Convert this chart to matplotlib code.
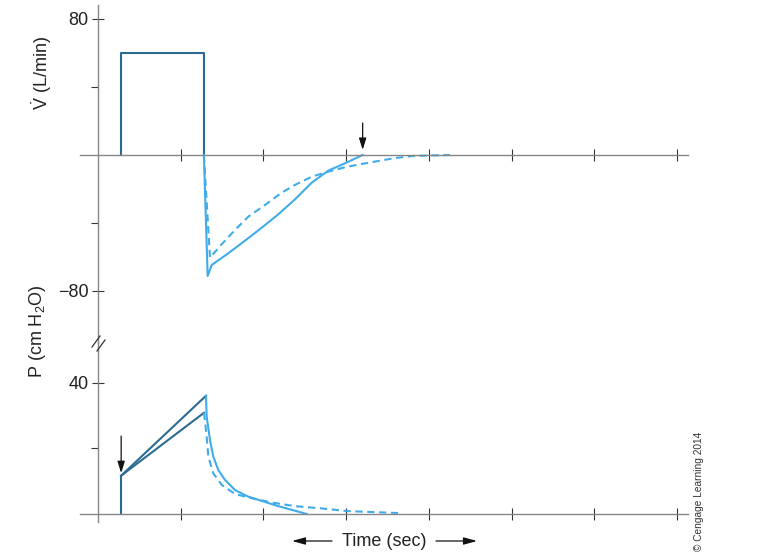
import matplotlib
matplotlib.use('Agg')
import matplotlib.pyplot as plt
from matplotlib.lines import Line2D

plt.rcParams['font.family'] = ['Liberation Sans', 'DejaVu Sans']
plt.rcParams['mathtext.fontset'] = 'custom'
plt.rcParams['mathtext.rm'] = 'Liberation Sans'
plt.rcParams['mathtext.it'] = 'Liberation Sans:italic'
plt.rcParams['mathtext.default'] = 'regular'

# ---- data (time in tick units) ----
# flow, set volume square wave
square_t = [0.28, 0.28, 1.28, 1.28]
square_flow = [0, 60, 60, 0]

# expiratory flow, solid
exp_solid_t = [1.28, 1.326, 1.375, 1.576, 1.778, 1.979, 2.180, 2.382, 2.584,
               2.785, 2.987, 3.20]
exp_solid_flow = [0, -71.2, -64.7, -57.8, -50.4, -42.8, -34.9, -26.1, -16.3,
                  -9.2, -4.9, 0]

# expiratory flow, dashed
exp_dash_t = [1.28, 1.354, 1.496, 1.657, 1.817, 2.019, 2.221, 2.382, 2.584,
              2.785, 2.987, 3.189, 3.349, 3.59, 3.809, 4.256]
exp_dash_flow = [0, -60.4, -52.5, -44.1, -36.3, -29.4, -22.2, -17.6, -12.8,
                 -9.8, -7.2, -5.3, -3.9, -1.8, -0.6, 0]

# pressure rise
rise_t = [0.28, 0.28]
rise_p = [0, 11.7]
upper_t = [0.28, 1.306]
upper_p = [11.7, 36.1]
lower_t = [0.28, 1.282]
lower_p = [11.7, 30.9]

# pressure decay
decay_solid_t = [1.306, 1.314, 1.354, 1.394, 1.455, 1.536, 1.657, 1.817, 1.979,
                 2.180, 2.382, 2.524]
decay_solid_p = [36.1, 29.7, 22.6, 17.5, 13.4, 10.4, 7.3, 5.3, 4.0, 2.4, 1.0, 0]
decay_dash_t = [1.282, 1.314, 1.334, 1.394, 1.496, 1.657, 1.859, 2.100, 2.382,
                2.705, 3.011, 3.628]
decay_dash_p = [30.9, 23.6, 17.5, 12.4, 8.9, 6.1, 4.8, 3.5, 2.4, 1.7, 0.9, 0.3]

flow_ticks = [-80, 80]
flow_minor = [-40, 40]
p_ticks = [40]
p_minor = [20]
time_ticks = [1, 2, 3, 4, 5, 6, 7]

flow_arrow_t = 3.20
p_arrow_t = 0.28

dark = '#2b6b92'
light = '#40acea'
spine_col = '#858585'

W, H = 776, 560
fig = plt.figure(figsize=(W / 100, H / 100), dpi=100)

def px(x0, y0, x1, y1):
    # pixel box (top-left origin) -> figure fraction rect
    return [x0 / W, 1 - y1 / H, (x1 - x0) / W, (y1 - y0) / H]

ax1 = fig.add_axes(px(80, 5, 688, 342))
ax2 = fig.add_axes(px(80, 342, 688, 522))

for ax in (ax1, ax2):
    ax.set_xlim(-0.2177, 7.134)
    ax.patch.set_visible(False)
    for s in ('top', 'right'):
        ax.spines[s].set_visible(False)
    ax.spines['left'].set_position(('data', 0))
    ax.spines['bottom'].set_position(('data', 0))
    for s in ('left', 'bottom'):
        ax.spines[s].set_color(spine_col)
        ax.spines[s].set_linewidth(1.0)
    ax.set_xticks(time_ticks)
    ax.set_xticklabels([])
    ax.tick_params(axis='x', direction='inout', length=8.5, width=0.8, color='#333333')
    ax.tick_params(axis='y', which='major', direction='inout', length=8, width=0.8,
                   color='#333333', pad=3, labelsize=13, labelcolor='#222222')
    ax.tick_params(axis='y', which='minor', direction='out', length=5, width=0.8,
                   color='#333333')

ax1.set_ylim(-110, 88.2)
ax2.set_ylim(-2.44, 52.5)

ax1.set_yticks(flow_ticks)
ax1.set_yticklabels(['\u221280', '80'])
ax1.set_yticks(flow_minor, minor=True)
ax2.set_yticks(p_ticks)
ax2.set_yticklabels(['40'])
ax2.set_yticks(p_minor, minor=True)

# flow panel
ax1.plot(square_t, square_flow, color=dark, lw=1.5)
ax1.plot(exp_solid_t, exp_solid_flow, color=light, lw=1.5)
ax1.plot(exp_dash_t, exp_dash_flow, color=light, lw=1.5, dashes=(3.5, 2.2))

# pressure panel
ax2.plot(rise_t, rise_p, color=dark, lw=1.5)
ax2.plot(upper_t, upper_p, color=dark, lw=1.5)
ax2.plot(lower_t, lower_p, color=dark, lw=1.5)
ax2.plot(decay_solid_t, decay_solid_p, color=light, lw=1.5)
ax2.plot(decay_dash_t, decay_dash_p, color=light, lw=1.5, dashes=(3.5, 2.2))

arrow_kw = dict(arrowstyle='-|>,head_length=0.7,head_width=0.22', color='#111111',
                lw=0.9, shrinkA=0, shrinkB=0)
ax1.annotate('', xy=(flow_arrow_t, 3), xytext=(flow_arrow_t, 18.8), arrowprops=arrow_kw)
ax2.annotate('', xy=(p_arrow_t, 12.5), xytext=(p_arrow_t, 23.8), arrowprops=arrow_kw)

# axis break marks
for (x0, y0, x1, y1) in [(92, 347, 100, 336), (97, 351, 105, 340)]:
    fig.add_artist(Line2D([x0 / W, x1 / W], [1 - y0 / H, 1 - y1 / H],
                          transform=fig.transFigure, color='#333333', lw=0.9))

# labels
fig.text(42 / W, 1 - 73 / H, r'$\dot{V}$ (L/min)', rotation=90, ha='center',
         va='center', fontsize=13, color='#222222')
fig.text(37 / W, 1 - 331 / H, 'P (cm H$_2$O)', rotation=90, ha='center',
         va='center', fontsize=13, color='#222222')
fig.text(384 / W, 1 - 541 / H, 'Time (sec)', ha='center', va='center',
         fontsize=13, color='#222222')
tarrow = dict(arrowstyle='-|>,head_length=0.8,head_width=0.22', color='#111111',
              lw=0.9, shrinkA=0, shrinkB=0)
ax1.annotate('', xy=(292, H - 541), xytext=(332, H - 541), xycoords='figure pixels',
             textcoords='figure pixels', arrowprops=tarrow, annotation_clip=False)
ax1.annotate('', xy=(477, H - 541), xytext=(436, H - 541), xycoords='figure pixels',
             textcoords='figure pixels', arrowprops=tarrow, annotation_clip=False)

fig.text(699 / W, 1 - 491 / H, '\u00a9 Cengage Learning 2014', rotation=90,
         ha='center', va='center', fontsize=7.3, color='#333333')

fig.savefig('out.png', dpi=100)
